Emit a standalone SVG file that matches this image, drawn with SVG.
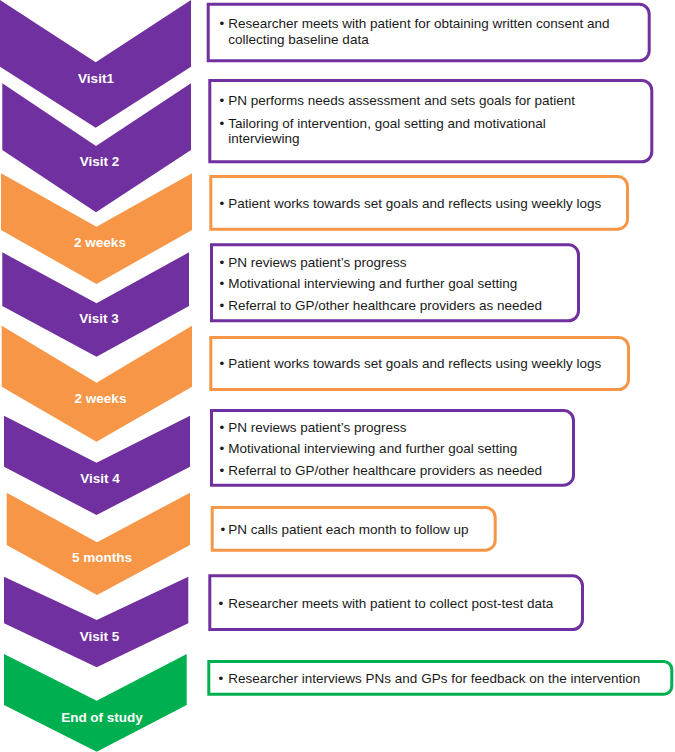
<svg xmlns="http://www.w3.org/2000/svg" width="675" height="752" viewBox="0 0 675 752">
<style>
  .bg { fill: #ffffff; }
  .purple { fill: #7030A0; }
  .orange { fill: #F79646; }
  .green { fill: #00B050; }
  .box { fill: #ffffff; stroke-width: 3; }
  .bp { stroke: #7030A0; }
  .bo { stroke: #F79646; }
  .bg2 { stroke: #00B050; }
  .lbl { font-family: "Liberation Sans", Arial, sans-serif; font-weight: bold; font-size: 13.5px; fill: #ffffff; text-anchor: middle; }
  .txt { font-family: "Liberation Sans", Arial, sans-serif; font-size: 13.5px; fill: #1a1a1a; }
</style>
<rect class="bg" x="0" y="0" width="675" height="752"/>
<g id="connectors"/>

<g id="step-visit1">
  <polygon class="purple" points="0,0 95.7,62.3 191,0 191,66.7 95.7,127.7 0,66.7"/>
  <text class="lbl" x="96" y="82.7">Visit1</text>
  <path class="box bp" d="M208.2,4.2 H639.2 A10,10 0 0 1 649.2,14.2 V50.8 A10,10 0 0 1 639.2,60.8 H208.2 Z"/>
  <text class="txt" x="219.5" y="28.3">•</text>
  <text class="txt" x="228.3" y="28.3">Researcher meets with patient for obtaining written consent and</text>
  <text class="txt" x="228.3" y="44.3">collecting baseline data</text>
</g>

<g id="step-visit2">
  <polygon class="purple" points="2.3,83.3 96,146 191,83.3 191,150 96,212.3 2.3,150"/>
  <text class="lbl" x="99.5" y="166">Visit 2</text>
  <path class="box bp" d="M209.8,80.5 H641.8 A10,10 0 0 1 651.8,90.5 V151.8 A10,10 0 0 1 641.8,161.8 H209.8 Z"/>
  <text class="txt" x="219.5" y="105.3">•</text>
  <text class="txt" x="228.3" y="105.3">PN performs needs assessment and sets goals for patient</text>
  <text class="txt" x="219.5" y="127.7">•</text>
  <text class="txt" x="228.3" y="127.7">Tailoring of intervention, goal setting and motivational</text>
  <text class="txt" x="228.3" y="143.3">interviewing</text>
</g>

<g id="step-2weeks-a">
  <polygon class="orange" points="1,173.3 96.5,226.7 192,173.3 192,230 96.5,284 1,230"/>
  <text class="lbl" x="100" y="246.7">2 weeks</text>
  <path class="box bo" d="M210.8,176.5 H617.5 A10,10 0 0 1 627.5,186.5 V219.2 A10,10 0 0 1 617.5,229.2 H210.8 Z"/>
  <text class="txt" x="219.5" y="208.3">•</text>
  <text class="txt" x="228.3" y="208.3">Patient works towards set goals and reflects using weekly logs</text>
</g>

<g id="step-visit3">
  <polygon class="purple" points="2.3,252.3 96.5,303.3 189,252.3 189,306 96.5,356.7 2.3,306"/>
  <text class="lbl" x="99" y="322.7">Visit 3</text>
  <path class="box bp" d="M211.5,244.8 H568.5 A10,10 0 0 1 578.5,254.8 V310.8 A10,10 0 0 1 568.5,320.8 H211.5 Z"/>
  <text class="txt" x="219.5" y="266.7">•</text>
  <text class="txt" x="228.3" y="266.7">PN reviews patient’s progress</text>
  <text class="txt" x="219.5" y="288.3">•</text>
  <text class="txt" x="228.3" y="288.3">Motivational interviewing and further goal setting</text>
  <text class="txt" x="219.5" y="310">•</text>
  <text class="txt" x="228.3" y="310">Referral to GP/other healthcare providers as needed</text>
</g>

<g id="step-2weeks-b">
  <polygon class="orange" points="1.7,325.7 96.5,382.7 192,325.7 192,386.7 96.5,441.7 1.7,386.7"/>
  <text class="lbl" x="100.5" y="402.7">2 weeks</text>
  <path class="box bo" d="M210.8,337.5 H618.5 A10,10 0 0 1 628.5,347.5 V379.5 A10,10 0 0 1 618.5,389.5 H210.8 Z"/>
  <text class="txt" x="219.5" y="368.3">•</text>
  <text class="txt" x="228.3" y="368.3">Patient works towards set goals and reflects using weekly logs</text>
</g>

<g id="step-visit4">
  <polygon class="purple" points="4,415.7 96.5,462.7 190,415.7 190,466.7 96.5,515 4,466.7"/>
  <text class="lbl" x="100" y="483.3">Visit 4</text>
  <path class="box bp" d="M211.5,410.5 H563.5 A10,10 0 0 1 573.5,420.5 V475.2 A10,10 0 0 1 563.5,485.2 H211.5 Z"/>
  <text class="txt" x="219.5" y="431.7">•</text>
  <text class="txt" x="228.3" y="431.7">PN reviews patient’s progress</text>
  <text class="txt" x="219.5" y="453.3">•</text>
  <text class="txt" x="228.3" y="453.3">Motivational interviewing and further goal setting</text>
  <text class="txt" x="219.5" y="475">•</text>
  <text class="txt" x="228.3" y="475">Referral to GP/other healthcare providers as needed</text>
</g>

<g id="step-5months">
  <polygon class="orange" points="6.7,492.7 97,542.3 190,492.7 190,545 97,595 6.7,545"/>
  <text class="lbl" x="102" y="562.3">5 months</text>
  <path class="box bo" d="M212.2,507.5 H485.2 A10,10 0 0 1 495.2,517.5 V540.2 A10,10 0 0 1 485.2,550.2 H212.2 Z"/>
  <text class="txt" x="220.5" y="534.3">•</text>
  <text class="txt" x="228.3" y="534.3">PN calls patient each month to follow up</text>
</g>

<g id="step-visit5">
  <polygon class="purple" points="4,576.7 96.7,620 188.3,576.7 188.3,623.3 96.7,667.3 4,623.3"/>
  <text class="lbl" x="99.5" y="640.7">Visit 5</text>
  <path class="box bp" d="M209.8,575.8 H572.5 A10,10 0 0 1 582.5,585.8 V619.5 A10,10 0 0 1 572.5,629.5 H209.8 Z"/>
  <text class="txt" x="218.5" y="608.3">•</text>
  <text class="txt" x="228.3" y="608.3">Researcher meets with patient to collect post-test data</text>
</g>

<g id="step-end">
  <polygon class="green" points="4,654 96.7,700.7 186.7,654 186.7,705 96.7,751.7 4,705"/>
  <text class="lbl" x="102" y="721.7">End of study</text>
  <path class="box bg2" d="M208.8,661.5 H663.8 A8,8 0 0 1 671.8,669.5 V686.2 A8,8 0 0 1 663.8,694.2 H208.8 Z"/>
  <text class="txt" x="218.5" y="683.3">•</text>
  <text class="txt" x="228.3" y="683.3">Researcher interviews PNs and GPs for feedback on the intervention</text>
</g>
</svg>
